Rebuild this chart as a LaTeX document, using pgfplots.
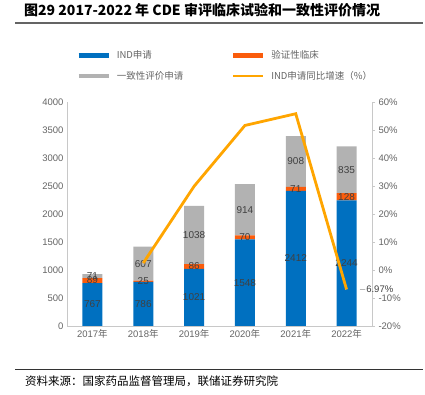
\documentclass[border=0pt]{standalone}
\usepackage{pgfplots}
\pgfplotsset{compat=1.18}
\usepackage{fontspec}
\setmainfont{Liberation Sans}
\newfontfamily\cjk{Noto Sans CJK SC}
\definecolor{cblue}{RGB}{0,112,192}
\definecolor{corange}{RGB}{250,92,12}
\definecolor{cgray}{RGB}{178,178,178}
\definecolor{cline}{RGB}{255,165,0}
\definecolor{ctick}{RGB}{100,100,100}
\definecolor{clab}{RGB}{64,64,64}
\definecolor{caxis}{RGB}{200,200,200}
\pgfplotstableread{
x ind ver gen
0 767 89 71
1 786 25 607
2 1021 86 1038
3 1548 70 914
4 2412 71 908
5 2244 128 835
}\bars
\pgfplotstableread{
x y label
0 383.5 767
1 393 786
2 510.5 1021
3 774 1548
4 1206 2412
5 1122 2244
0 811.5 89
1 798.5 25
2 1064 86
3 1583 70
4 2447.5 71
5 2308 128
0 891.5 71
1 1114.5 607
2 1626 1038
3 2075 914
4 2937 908
5 2789.5 835
}\labels
\pgfplotstableread{
x y
1 2.48
2 29.90
3 51.62
4 55.81
5 -6.97
}\growth
\pgfplotsset{
  common/.style={
    scale only axis, width=305pt, height=224pt,
    at={(67pt,69pt)}, anchor=south west,
    xmin=-0.5, xmax=5.5,
    /pgf/number format/assume math mode=true,
    ticklabel style={font=\fontsize{9.5}{11}\selectfont, color=ctick},
  },
  barleg/.style={legend image code/.code={\draw[##1, line width=4.5pt] (0pt,0pt) -- (30pt,0pt);}},
  lineleg/.style={legend image code/.code={\draw[##1, line width=2.5pt] (0pt,0pt) -- (30pt,0pt);}},
}
\begin{document}
\begin{tikzpicture}
\useasboundingbox (0,0) rectangle (425pt,395pt);
% title
\node[anchor=west, inner sep=0pt] at (24pt,385pt) {\cjk\bfseries\fontsize{14}{16}\selectfont 图29 2017-2022 年 CDE 审评临床试验和一致性评价情况};
\draw[color=ctick, line width=1.2pt] (15pt,372pt) -- (423pt,372pt);
\draw[color=black!80, line width=1pt] (15pt,25pt) -- (423pt,25pt);
\node[anchor=west, inner sep=0pt] at (25pt,14pt) {\cjk\fontsize{11.5}{13}\selectfont 资料来源：国家药品监督管理局，联储证券研究院};
% bars
\begin{axis}[common,
  ybar stacked, bar width=20pt,
  ymin=0, ymax=4000, ytick={0,500,...,4000},
  axis x line*=bottom, axis y line*=left,
  axis line style={draw=caxis, line width=0.8pt},
  xtick={0,...,5},
  xticklabels={2017{\cjk 年},2018{\cjk 年},2019{\cjk 年},2020{\cjk 年},2021{\cjk 年},2022{\cjk 年}},
  major tick length=0pt,
  scaled y ticks=false,
  yticklabel style={/pgf/number format/1000 sep={}},
]
\addplot[fill=cblue, draw=none] table[x=x, y=ind] {\bars};
\addplot[fill=corange, draw=none] table[x=x, y=ver] {\bars};
\addplot[fill=cgray, draw=none] table[x=x, y=gen] {\bars};
\end{axis}
% labels
\begin{axis}[common, hide axis, ymin=0, ymax=4000]
\addplot[draw=none, mark=none, nodes near coords, point meta=explicit symbolic,
  every node near coord/.append style={anchor=center, font=\fontsize{10}{12}\selectfont, color=clab}]
  table[x=x, y=y, meta=label] {\labels};
\end{axis}
% line
\begin{axis}[common,
  ymin=-20, ymax=60, ytick={-20,-10,...,60},
  axis y line*=right, axis x line=none,
  axis line style={draw=caxis, line width=0.8pt},
  ytick style={draw=caxis, line width=0.8pt},
  tick align=outside, major tick length=3pt,
  yticklabel={\pgfmathprintnumber{\tick}\%},
  legend columns=2,
  legend style={draw=none, fill=none, at={(0.02,1.248)}, anchor=north west,
    font=\cjk\fontsize{9.5}{11}\selectfont, text=ctick,
    row sep=7pt, /tikz/every odd column/.append style={column sep=4pt}},
  legend cell align=left,
]
\addlegendimage{barleg, draw=cblue}
\addlegendentry{\makebox[112pt][l]{IND申请}}
\addlegendimage{barleg, draw=corange}
\addlegendentry{验证性临床}
\addlegendimage{barleg, draw=cgray}
\addlegendentry{\makebox[112pt][l]{一致性评价申请}}
\addlegendimage{lineleg, draw=cline}
\addlegendentry{IND申请同比增速（\%）}
\addplot[cline, line width=2.8pt, mark=none, forget plot] table[x=x, y=y] {\growth};
\addplot[draw=none, mark=none, forget plot, nodes near coords={$-$6.97\%},
  every node near coord/.append style={anchor=west, xshift=9pt, font=\fontsize{9.5}{11}\selectfont, color=clab}]
  coordinates {(5,-6.97)};
\end{axis}
\end{tikzpicture}
\end{document}
